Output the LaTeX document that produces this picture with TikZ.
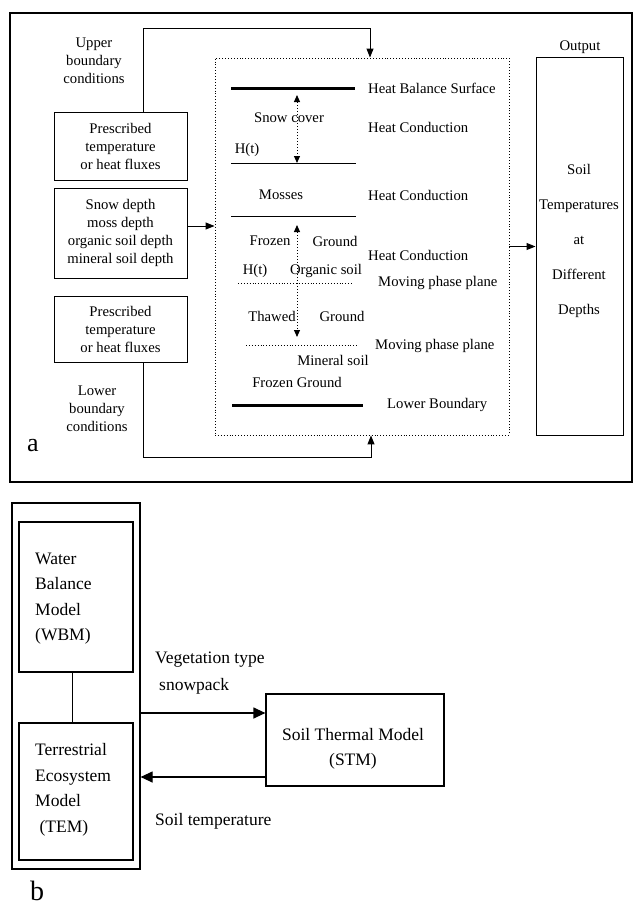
\documentclass[tikz,border=0pt]{standalone}
\usepackage{fontspec}
\setmainfont{Liberation Serif}
\usetikzlibrary{arrows.meta}
\begin{document}
\begin{tikzpicture}[x=1pt,y=-1pt,
  txt/.style={font=\fontsize{14.7}{18}\selectfont, inner sep=0pt, align=center},
  btxt/.style={font=\fontsize{17.5}{25.5}\selectfont, inner sep=0pt, align=left},
  box/.style={draw, line width=1pt, inner sep=0pt, txt},
  arr/.style={line width=1pt, -{Triangle[length=9pt,width=7pt]}},
  barr/.style={line width=1.2pt, -{Triangle[length=12pt,width=11pt]}},
  darr/.style={line width=1pt, dotted, {Triangle[length=7pt,width=6pt,sep=0pt]}-{Triangle[length=7pt,width=6pt]}},
  layer/.style={line width=1pt},
  thick layer/.style={line width=3pt},
  phase/.style={line width=0.9pt, dotted}]
\useasboundingbox (0,0) rectangle (636,910);
\fill[white] (0,0) rectangle (636,910);

% ---------- part a ----------
\node[draw, line width=1.4pt, minimum width=622pt, minimum height=469pt, inner sep=0pt] (outera) at (321,247.5) {};

\node[box, minimum width=133pt, minimum height=68pt] (box1) at (120.5,146) {Prescribed\\temperature\\or heat fluxes};
\node[box, minimum width=133pt, minimum height=90pt] (box2) at (120.5,233) {Snow depth\\moss depth\\organic soil depth\\mineral soil depth};
\node[box, minimum width=133pt, minimum height=66pt] (box3) at (120.5,329) {Prescribed\\temperature\\or heat fluxes};

\node[txt] (ubc) at (94,61) {Upper\\boundary\\conditions};
\node[txt] (lbc) at (97,409) {Lower\\boundary\\conditions};

\node[draw, dotted, line width=0.9pt, minimum width=294pt, minimum height=377pt, inner sep=0pt] (dotbox) at (362,246.5) {};
\node[draw, line width=1pt, minimum width=87pt, minimum height=378pt, inner sep=0pt] (outbox) at (579.5,246) {};
\node[txt, font=\fontsize{14.7}{34.8}\selectfont] (outtxt) at (579,241) {Soil\\Temperatures\\at\\Different\\Depths};
\node[txt] (outlbl) at (580,47) {Output};

\coordinate (utop) at (370,28);
\draw[arr] ([xshift=22.5pt]box1.north) |- (utop) -- (utop |- dotbox.north);
\coordinate (lbot) at (371,457);
\draw[arr] ([xshift=22.5pt]box3.south) |- (lbot) -- (lbot |- dotbox.south);
\coordinate (b2o) at ([yshift=7pt]box2.east);
\draw[arr] (b2o) -- (b2o -| dotbox.west);
\draw[arr] (dotbox.east) -- (dotbox.east -| outbox.west);

% layers
\draw[thick layer] (231,88) -- (355,88);
\draw[layer] (231,163) -- (356,163);
\draw[layer] (231,216) -- (356,216);
\draw[phase] (238,283) -- (353,283);
\draw[phase] (246,345) -- (357,345);
\draw[thick layer] (232,405) -- (363,405);
\draw[darr] (297,95) -- (297,163);
\draw[darr] (297,225) -- (297,337);

\node[txt] (snow) at (289,118) {Snow cover};
\node[txt] (ht1) at (247,150) {H(t)};
\node[txt] (moss) at (281,195) {Mosses};
\node[txt] (fr1) at (270,241) {Frozen};
\node[txt] (gr1) at (335,241) {Ground};
\node[txt] (ht2) at (255,271) {H(t)};
\node[txt] (org) at (326,271) {Organic soil};
\node[txt] (thaw) at (272,316) {Thawed};
\node[txt] (gr2) at (342,316) {Ground};
\node[txt] (min) at (333,360) {Mineral soil};
\node[txt] (fr2) at (297,382) {Frozen Ground};

\node[txt, anchor=west] (r1) at (368,88) {Heat Balance Surface};
\node[txt, anchor=west] (r2) at (368,127) {Heat Conduction};
\node[txt, anchor=west] (r3) at (368,195) {Heat Conduction};
\node[txt, anchor=west] (r4) at (368,255) {Heat Conduction};
\node[txt, anchor=west] (r5) at (378,283) {Moving phase plane};
\node[txt, anchor=west] (r6) at (375,346) {Moving phase plane};
\node[txt, anchor=west] (r7) at (387,405) {Lower Boundary};

\node[inner sep=0pt, font=\fontsize{26}{30}\selectfont] (la) at (33,446) {a};

% ---------- part b ----------
\node[draw, line width=1.2pt, minimum width=128pt, minimum height=366pt, inner sep=0pt] (bouter) at (76,686) {};
\node[draw, line width=1.2pt, minimum width=114pt, minimum height=150pt, inner sep=0pt] (wbm) at (76,597) {};
\node[btxt, anchor=west] (wbmt) at (35,598.5) {Water\\Balance\\Model\\(WBM)};
\node[draw, line width=1.2pt, minimum width=114pt, minimum height=137pt, inner sep=0pt] (tem) at (76,791.5) {};
\node[btxt, anchor=west] (temt) at (35,790) {Terrestrial\\Ecosystem\\Model\\\ (TEM)};
\draw[line width=1pt] ([xshift=-4pt]wbm.south) -- ([xshift=-4pt]tem.north);

\node[draw, line width=1.2pt, minimum width=178pt, minimum height=92pt, inner sep=0pt] (stm) at (355,740) {};
\node[btxt, align=center] (stmt) at (353,749) {Soil Thermal Model\\(STM)};

\coordinate (a1) at ([yshift=27pt]stm.west);
\draw[barr] (a1 -| bouter.east) -- (a1);
\coordinate (a2) at ([yshift=-37pt]stm.west);
\draw[barr] (a2) -- (a2 -| bouter.east);

\node[btxt, anchor=west] (veg) at (155,660) {Vegetation type};
\node[btxt, anchor=west] (snp) at (159,686) {snowpack};
\node[btxt, anchor=west] (stemp) at (155,821) {Soil temperature};

\node[inner sep=0pt, font=\fontsize{28}{32}\selectfont] (lb) at (37,891) {b};
\end{tikzpicture}
\end{document}
